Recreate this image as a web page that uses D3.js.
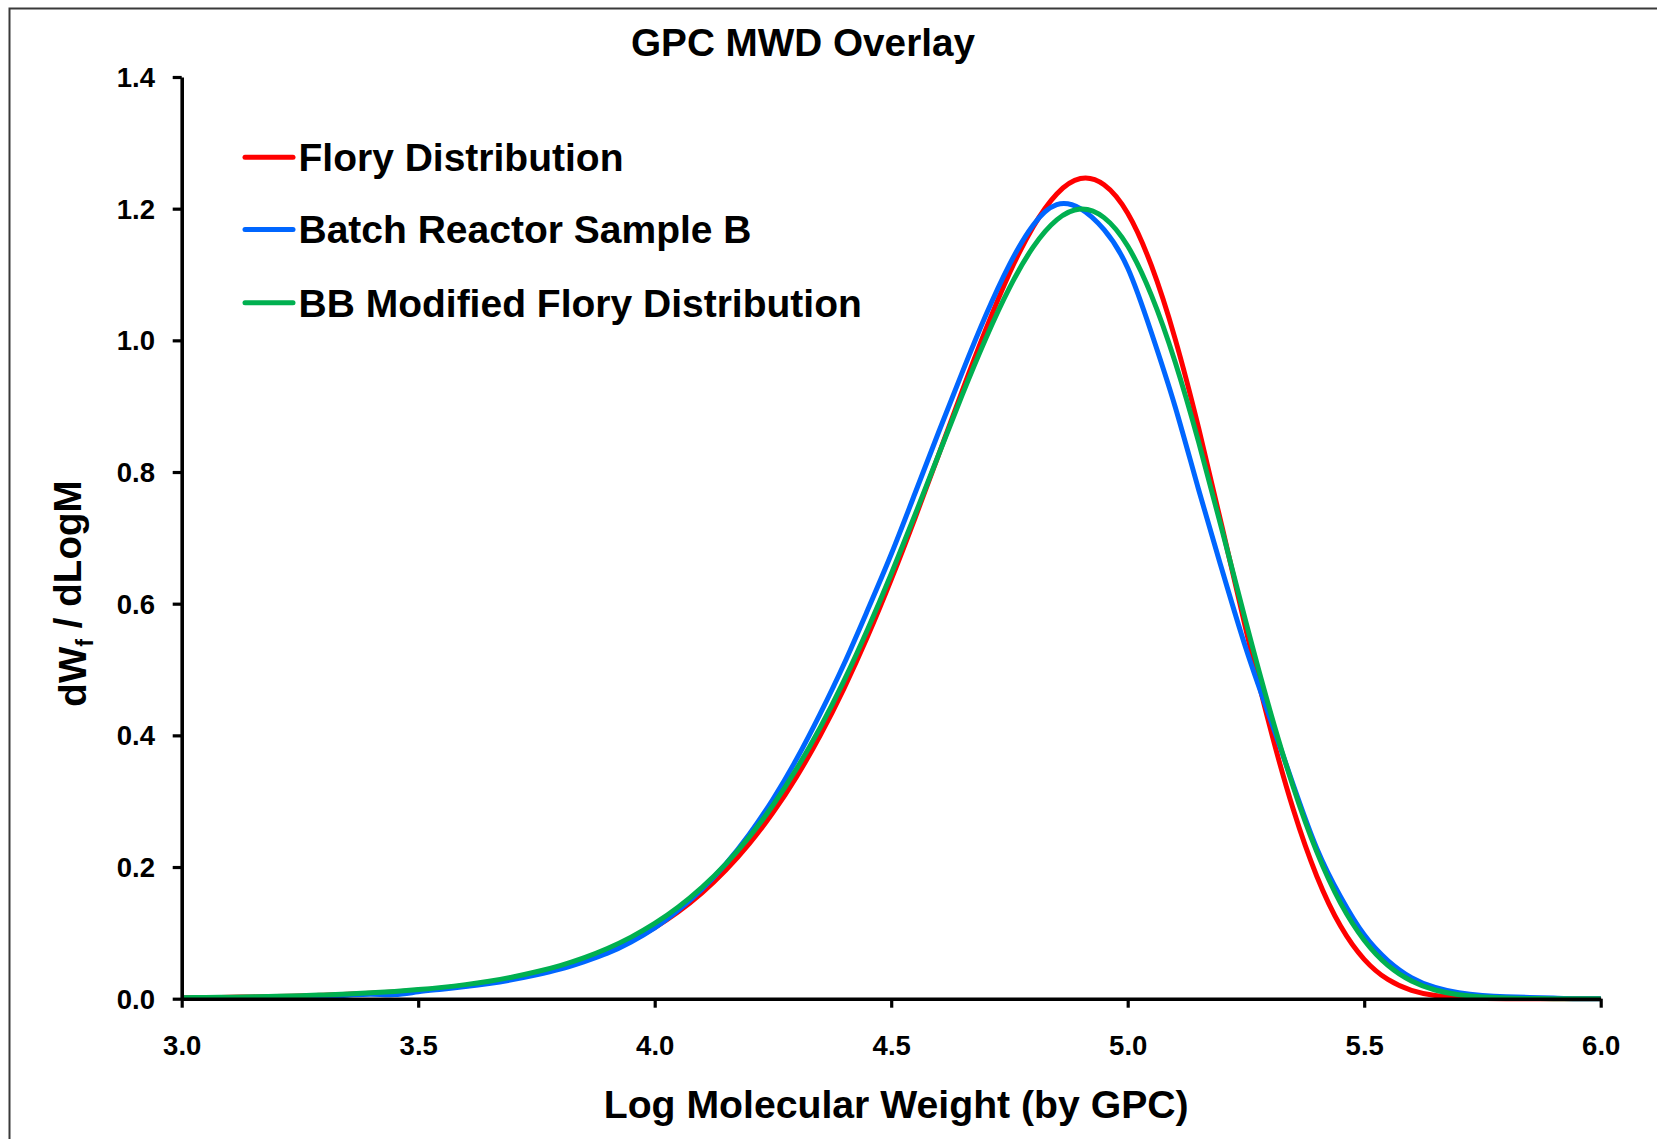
<!DOCTYPE html>
<html>
<head>
<meta charset="utf-8">
<title>GPC MWD Overlay</title>
<script src="https://cdn.jsdelivr.net/npm/d3@7"></script>
<style>
  html, body { margin: 0; padding: 0; background: #ffffff; }
  svg { display: block; }
  text { font-family: "Liberation Sans", Arial, Helvetica, sans-serif; font-weight: bold; fill: #000; }
</style>
</head>
<body>
<svg id="chart" width="1657" height="1139"></svg>
<script>
// Log molecular weight grid shared by the three distributions
const logM = [
  3.00, 3.05, 3.10, 3.15, 3.20, 3.25, 3.30, 3.35, 3.40, 3.45,
  3.50, 3.55, 3.60, 3.65, 3.70, 3.75, 3.80, 3.85, 3.90, 3.95,
  4.00, 4.05, 4.10, 4.15, 4.20, 4.25, 4.30, 4.35, 4.40, 4.45,
  4.50, 4.55, 4.60, 4.65, 4.70, 4.75, 4.80, 4.85, 4.90, 4.95,
  5.00, 5.05, 5.10, 5.15, 5.20, 5.25, 5.30, 5.35, 5.40, 5.45,
  5.50, 5.55, 5.60, 5.65, 5.70, 5.75, 5.80, 5.85, 5.90, 5.95,
  6.00
];

// dWf / dLogM, Flory distribution
const flory = [
  0.0014, 0.0017, 0.0021, 0.0027, 0.0033, 0.0042, 0.0052, 0.0066, 0.0082, 0.0102,
  0.0128, 0.0159, 0.0199, 0.0247, 0.0307, 0.0381, 0.0471, 0.0582, 0.0717, 0.0882,
  0.1081, 0.1321, 0.1608, 0.1950, 0.2354, 0.2826, 0.3373, 0.4001, 0.4711, 0.5501,
  0.6366, 0.7293, 0.8257, 0.9229, 1.0164, 1.1019, 1.1723, 1.2224, 1.2458, 1.2363,
  1.1930, 1.1137, 1.0030, 0.8666, 0.7152, 0.5607, 0.4147, 0.2876, 0.1857, 0.1103,
  0.0598, 0.0292, 0.0128, 0.0049, 0.0016, 0.0005, 0.0001, 0.0000, 0.0000, 0.0000,
  0.0000
];

// dWf / dLogM, batch reactor sample B (measured)
const batchB = [
  0.0005, 0.0008, 0.0012, 0.0016, 0.0022, 0.0030, 0.0041, 0.0053, 0.0068, 0.0062,
  0.0105, 0.0143, 0.0184, 0.0232, 0.0290, 0.0362, 0.0448, 0.0560, 0.0690, 0.0862,
  0.1075, 0.1345, 0.1665, 0.2045, 0.2500, 0.3030, 0.3640, 0.4330, 0.5080, 0.5900,
  0.6750, 0.7670, 0.8600, 0.9510, 1.0380, 1.1150, 1.1750, 1.2060, 1.2000, 1.1680,
  1.1100, 1.0120, 0.9000, 0.7730, 0.6500, 0.5320, 0.4280, 0.3250, 0.2280, 0.1550,
  0.0970, 0.0580, 0.0320, 0.0170, 0.0090, 0.0050, 0.0030, 0.0020, 0.0010, 0.0000,
  0.0000
];

// dWf / dLogM, band-broadened (BB) modified Flory distribution
const bbFlory = [
  0.0015, 0.0018, 0.0023, 0.0029, 0.0036, 0.0045, 0.0057, 0.0071, 0.0089, 0.0111,
  0.0138, 0.0172, 0.0214, 0.0266, 0.0330, 0.0409, 0.0503, 0.0620, 0.0762, 0.0935,
  0.1143, 0.1393, 0.1691, 0.2044, 0.2457, 0.2938, 0.3492, 0.4122, 0.4828, 0.5608,
  0.6451, 0.7343, 0.8258, 0.9169, 1.0029, 1.0798, 1.1415, 1.1829, 1.1994, 1.1864,
  1.1432, 1.0687, 0.9678, 0.8454, 0.7104, 0.5721, 0.4399, 0.3216, 0.2226, 0.1452,
  0.0889, 0.0507, 0.0269, 0.0132, 0.0060, 0.0025, 0.0009, 0.0003, 0.0001, 0.0000,
  0.0000
];

const seriesNames = ["Flory Distribution", "Batch Reactor Sample B", "BB Modified Flory Distribution"];
const seriesColors = ["#ff0000", "#0066ff", "#00b050"];

const xTicks = [3.0, 3.5, 4.0, 4.5, 5.0, 5.5, 6.0];
const yTicks = [0.0, 0.2, 0.4, 0.6, 0.8, 1.0, 1.2, 1.4];

const chartTitle = "GPC MWD Overlay";
const xTitle = "Log Molecular Weight (by GPC)";

// ---- layout ----
const plot = { left: 181.7, right: 1600.7, top: 77, bottom: 998.7 };

const svg = d3.select("#chart");

// chart frame (right and bottom edges run past the canvas)
svg.append("rect")
  .attr("x", 9.5).attr("y", 8.5)
  .attr("width", 1660).attr("height", 1140)
  .attr("fill", "#ffffff")
  .attr("stroke", "#3a3a3a")
  .attr("stroke-width", 2);

const x = d3.scaleLinear().domain([3, 6]).range([plot.left, plot.right]);
const y = d3.scaleLinear().domain([0, 1.4]).range([plot.bottom, plot.top]);

// ---- curves ----
const allSeries = [flory, batchB, bbFlory];
const line = d3.line()
  .x(d => x(d[0]))
  .y(d => y(d[1]))
  .curve(d3.curveNatural);

const curves = svg.append("g").attr("class", "curves");
allSeries.forEach((vals, i) => {
  const pts = logM.map((m, j) => [m, vals[j]]);
  curves.append("path")
    .datum(pts)
    .attr("d", line)
    .attr("fill", "none")
    .attr("stroke", seriesColors[i])
    .attr("stroke-width", 5)
    .attr("stroke-linejoin", "round")
    .attr("stroke-linecap", "butt");
});

// ---- axes ----
const fmt = d3.format(".1f");

const xAxis = svg.append("g")
  .attr("transform", `translate(0,${plot.bottom})`)
  .call(d3.axisBottom(x).tickValues(xTicks).tickFormat(fmt).tickSize(9).tickSizeOuter(0));

const yAxis = svg.append("g")
  .attr("transform", `translate(${plot.left},0)`)
  .call(d3.axisLeft(y).tickValues(yTicks).tickFormat(fmt).tickSize(9).tickSizeOuter(0));

[xAxis, yAxis].forEach(g => {
  g.select(".domain").attr("stroke", "#000").attr("stroke-width", 3.6);
  g.selectAll(".tick line").attr("stroke", "#000").attr("stroke-width", 3.2);
  g.selectAll(".tick text")
    .style("font-family", '"Liberation Sans", Arial, sans-serif')
    .style("font-weight", "bold")
    .attr("font-size", 27.5)
    .attr("fill", "#000");
});

xAxis.selectAll(".tick text")
  .attr("y", 56.5)
  .attr("dy", 0);

yAxis.selectAll(".tick text")
  .attr("x", -26.7)
  .attr("dy", "0.34em");

// ---- titles ----
svg.append("text")
  .attr("x", 803).attr("y", 55.5)
  .attr("text-anchor", "middle")
  .attr("font-size", 38.7)
  .text(chartTitle);

svg.append("text")
  .attr("x", (plot.left + plot.right) / 2 + 5).attr("y", 1117.5)
  .attr("text-anchor", "middle")
  .attr("font-size", 39.2)
  .text(xTitle);

const yTitle = svg.append("text")
  .attr("transform", "translate(86,593.5) rotate(-90)")
  .attr("text-anchor", "middle")
  .attr("font-size", 38.6);
yTitle.append("tspan").text("dW");
yTitle.append("tspan").attr("font-size", 23.5).attr("dy", "0.3em").text("f");
yTitle.append("tspan").attr("dy", "-0.3em").text(" / dLogM");

// ---- legend ----
const legendRows = [157.3, 229.5, 302.8];
const legend = svg.append("g").attr("class", "legend");
seriesNames.forEach((name, i) => {
  legend.append("line")
    .attr("x1", 245).attr("x2", 293)
    .attr("y1", legendRows[i]).attr("y2", legendRows[i])
    .attr("stroke", seriesColors[i])
    .attr("stroke-width", 5)
    .attr("stroke-linecap", "round");
  legend.append("text")
    .attr("x", 298.5).attr("y", legendRows[i] + 13.8)
    .attr("font-size", 39)
    .text(name);
});
</script>
</body>
</html>
